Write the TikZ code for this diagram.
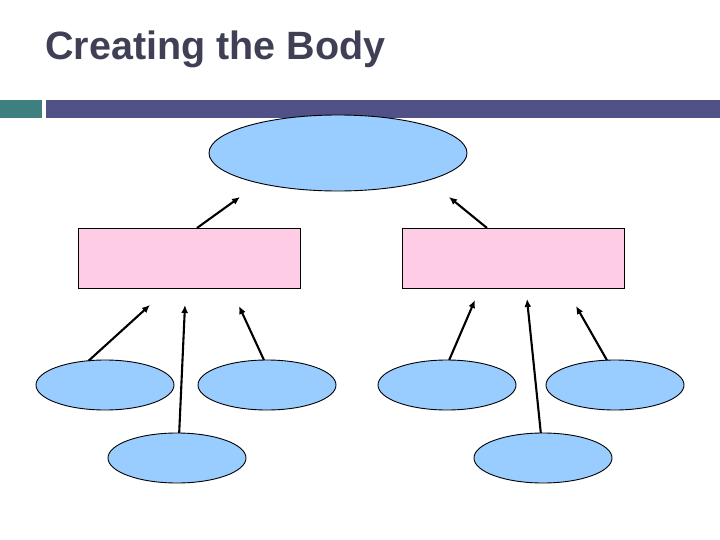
\documentclass[tikz,border=0pt]{standalone}
\usepackage{fontspec}
\setmainfont{Liberation Sans}
\usetikzlibrary{shapes.geometric,arrows.meta}
\definecolor{titlec}{RGB}{63,63,85}
\definecolor{tealc}{RGB}{62,128,128}
\definecolor{barc}{RGB}{79,81,135}
\definecolor{ellc}{RGB}{153,204,255}
\definecolor{pinkc}{RGB}{255,204,230}
\tikzset{
  oval/.style={ellipse, draw=black, line width=0.9pt, fill=ellc, inner sep=0pt, outer sep=0pt, minimum width=138pt, minimum height=50pt},
  bigoval/.style={oval, minimum width=258pt, minimum height=76pt},
  pbox/.style={rectangle, draw=black, line width=0.9pt, fill=pinkc, inner sep=0pt, outer sep=0pt, minimum width=222pt, minimum height=60pt},
  arr/.style={line width=2.1pt, -{Latex[length=8pt,width=7pt]}}
}
\begin{document}
\begin{tikzpicture}[x=1pt,y=-1pt]
\useasboundingbox (0,0) rectangle (720,540);
\node[anchor=base west, inner sep=0pt, text=titlec, font=\fontsize{39.5}{42}\selectfont\bfseries] (title) at (45,60) {Creating the Body};
\fill[tealc] (0,100) rectangle (42,118);
\fill[barc] (46,100) rectangle (720,118);
\node[bigoval] (top) at (338,153) {};
\node[pbox] (r1) at (189,258) {};
\node[pbox] (r2) at (513,258) {};
\node[oval] (e1) at (105,385) {};
\node[oval] (e2) at (267,385) {};
\node[oval] (e3) at (447,385) {};
\node[oval] (e4) at (615,385) {};
\node[oval] (e5) at (177,458) {};
\node[oval] (e6) at (543,458) {};
\coordinate (t1) at (240,197);
\coordinate (t2) at (449,197);
\coordinate (a1) at (150,305);
\coordinate (a2) at (185,305);
\coordinate (a3) at (239,306);
\coordinate (b1) at (475,300);
\coordinate (b2) at (527,299);
\coordinate (b3) at (576,306);
\draw[arr] ([xshift=8pt]r1.north) -- (t1);
\draw[arr] ([xshift=-26pt]r2.north) -- (t2);
\draw[arr] (e1.124) -- (a1);
\draw[arr] (e5.85) -- (a2);
\draw[arr] (e2.97) -- (a3);
\draw[arr] (e3.85) -- (b1);
\draw[arr] (e6.95) -- (b2);
\draw[arr] (e4.108) -- (b3);
\end{tikzpicture}
\end{document}
